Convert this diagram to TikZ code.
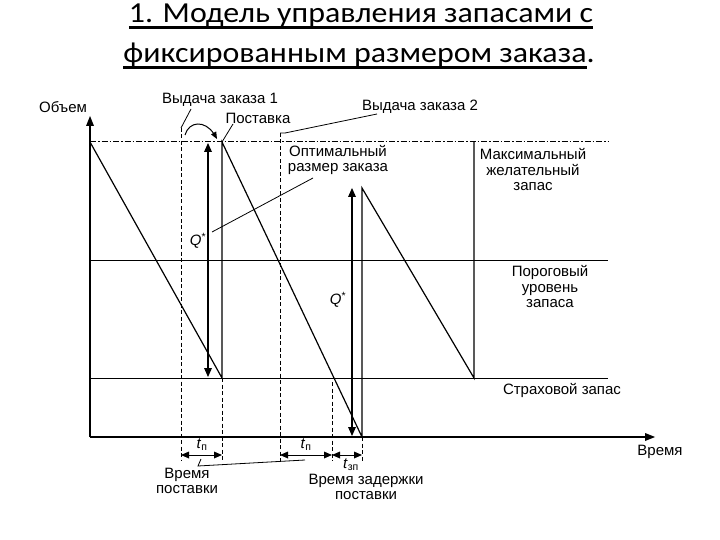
\documentclass[tikz,border=0pt]{standalone}
\usepackage{fontspec}
\setmainfont{Liberation Sans}
\newfontfamily\titlefont{Carlito}
\newcommand{\thickul}[1]{\setbox0\hbox{#1}\rlap{\rule[-6pt]{\wd0}{2.6pt}}\box0}
\usetikzlibrary{positioning,calc}

\begin{document}
\begin{tikzpicture}[x=1pt, y=1pt, yscale=-1, font=\fontsize{15}{15.5}\selectfont,
  tipfill/.style={fill=black},
  axisline/.style={line width=1.6pt},
  levelline/.style={line width=1pt},
  maxline/.style={line width=1pt, dash pattern=on 6pt off 2pt on 1.5pt off 2pt},
  sawline/.style={line width=1.2pt},
  guideline/.style={line width=0.8pt, dash pattern=on 4pt off 2.5pt},
  qarrow/.style={line width=1.2pt, shorten >=4pt, shorten <=4pt},
  tarrow/.style={line width=1pt, shorten >=4pt, shorten <=4pt},
  leader/.style={line width=0.8pt},
  titletext/.style={font=\titlefont\fontsize{29}{34}\selectfont, anchor=base, inner sep=0pt},
  lab/.style={align=center, inner sep=0pt}]
\useasboundingbox (0,0) rectangle (720,540);

\node[titletext] (title1) at (361,23) {\scalebox{1.1}[1]{\thickul{1. Модель управления запасами с}}};
\node[titletext] (title2) at (359,63) {\scalebox{1.1}[1]{\thickul{фиксированным размером заказа}.}};

\coordinate (O) at (90,437);
\coordinate (ytop) at (90,116);
\coordinate (xend) at (655,437);
\coordinate (Lmax) at (608,142);
\coordinate (Lthr) at (608,260);
\coordinate (Lsafe) at (608,378);
\draw[axisline, shorten >=5pt] (O) -- (ytop);
\draw[axisline, shorten >=5pt] (O) -- (xend);
\fill[tipfill] (ytop) -- ++(-4,10) -- ++(8,0) -- cycle;
\fill[tipfill] (xend) -- ++(-10,-4) -- ++(0,8) -- cycle;
\draw[maxline] (O |- Lmax) -- (Lmax);
\draw[levelline] (O |- Lthr) -- (Lthr);
\draw[levelline] (O |- Lsafe) -- (Lsafe);
\node[lab] (vol) at (63,107) {Объем};
\node[lab] (time) at (660,452) {Время};

\coordinate (p1) at (222,378);
\coordinate (p2) at (222,142);
\coordinate (p3) at (362,437);
\coordinate (p4) at (362,188);
\coordinate (p5) at (474,378);
\coordinate (p6) at (474,142);
\draw[sawline] (O |- Lmax) -- (p1) -- (p2) -- (p3) -- (p4) -- (p5) -- (p6);

\coordinate (ta) at (181,455);
\coordinate (tb) at (222,455);
\coordinate (tc) at (280,455);
\coordinate (td) at (332,455);
\coordinate (te) at (362,455);
\coordinate (g1) at (181,128);
\coordinate (g3) at (280,133);
\coordinate (g4) at (332,382);
\draw[guideline] (g1) -- ($(ta)+(0,6)$);
\draw[guideline] (p1) -- ($(tb)+(0,6)$);
\draw[guideline] (g3) -- ($(tc)+(0,6)$);
\draw[guideline] (g4) -- ($(td)+(0,6)$);
\draw[guideline] (p3) -- ($(te)+(0,6)$);
\draw[tarrow] (ta) -- (tb);
\draw[tarrow] (tc) -- (td);
\draw[tarrow] (td) -- (te);
\fill[tipfill] (ta) -- ++(8,-3.5) -- ++(0,7) -- cycle;
\fill[tipfill] (tb) -- ++(-8,-3.5) -- ++(0,7) -- cycle;
\fill[tipfill] (tc) -- ++(8,-3.5) -- ++(0,7) -- cycle;
\fill[tipfill] (td) -- ++(-8,-3.5) -- ++(0,7) -- cycle;
\fill[tipfill] (td) -- ++(8,-3.5) -- ++(0,7) -- cycle;
\fill[tipfill] (te) -- ++(-8,-3.5) -- ++(0,7) -- cycle;
\node[lab] (tp1) at (202,445) {\textit{t}\textsubscript{п}};
\node[lab] (tp2) at (306,445) {\textit{t}\textsubscript{п}};
\node[lab] (tzp) at (351,465) {\textit{t}\textsubscript{зп}};

\coordinate (q1a) at (208,143);
\coordinate (q1b) at (208,377);
\coordinate (q2a) at (352,188);
\coordinate (q2b) at (352,436);
\draw[qarrow] (q1b) -- (q1a);
\draw[qarrow] (q2b) -- (q2a);
\fill[tipfill] (q1a) -- ++(-4,9) -- ++(8,0) -- cycle;
\fill[tipfill] (q1b) -- ++(-4,-9) -- ++(8,0) -- cycle;
\fill[tipfill] (q2a) -- ++(-4,9) -- ++(8,0) -- cycle;
\fill[tipfill] (q2b) -- ++(-4,-9) -- ++(8,0) -- cycle;
\node[lab] (q1) at (198,241) {\textit{Q}\textsuperscript{*}};
\node[lab] (q2) at (338,300) {\textit{Q}\textsuperscript{*}};

\node[lab] (order1) at (220,100) {Выдача заказа 1};
\node[lab] (supply) at (258,118) {Поставка};
\node[lab] (order2) at (420,107) {Выдача заказа 2};
\node[lab] (optimal) at (338,160) {Оптимальный\\размер заказа};
\node[lab] (maxstock) at (533,170) {Максимальный\\желательный\\запас};
\node[lab] (thrstock) at (550,287) {Пороговый\\уровень\\запаса};
\node[lab] (safestock) at (562,390) {Страховой запас};
\node[lab] (leadtime) at (187,481) {Время\\поставки};
\node[lab] (delay) at (366,487) {Время задержки\\поставки};

\coordinate (bend) at (217,139);
\draw[leader] (191,109) -- (g1);
\draw[line width=1pt] (185,135) .. controls (189,121) and (205,120) .. ($(bend)+(-3,-5)$);
\fill[tipfill] (bend) -- ++(-6,-4.6) -- ++(5.2,-3) -- cycle;
\draw[leader] (233,124) -- (p2);
\draw[leader] (g3) -- ++(5,0) -- (377,114);
\draw[leader] (313,178) -- (212,232);
\draw[leader] (201,459) -- (198,466) -- (305,460);
\end{tikzpicture}
\end{document}
